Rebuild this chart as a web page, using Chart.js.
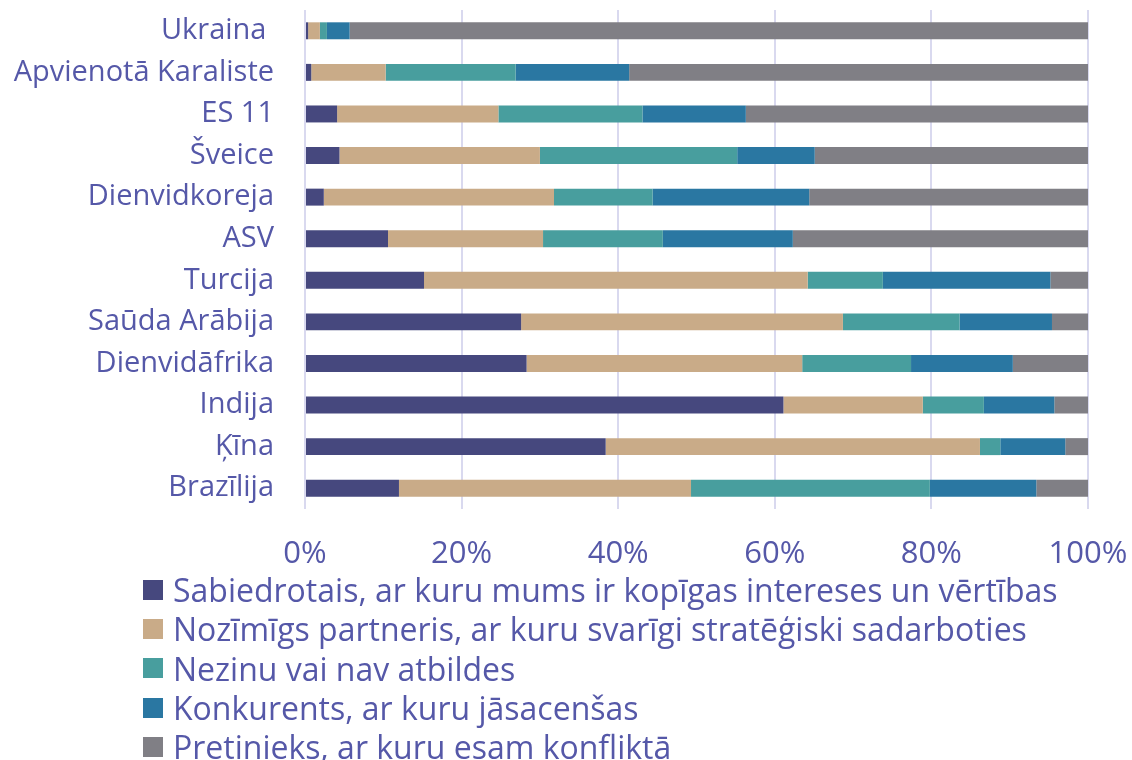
<!DOCTYPE html>
<html>
<head>
<meta charset="utf-8">
<script src="https://cdn.jsdelivr.net/npm/chart.js@4.4.1/dist/chart.umd.min.js"></script>
<style>
  html, body { margin: 0; padding: 0; background: #fff; }
  #wrap { position: relative; width: 1132px; height: 760px; overflow: hidden; }
  #chartBox { position: absolute; left: 0; top: 0; width: 1132px; height: 575px; }
  #legenda {
    position: absolute; left: 143px; top: 570px;
    font-family: "Open Sans", sans-serif; font-size: 32px; color: #5558a8;
  }
  .voce { display: flex; align-items: center; height: 39.3px; white-space: nowrap; }
  .box { width: 20px; height: 20px; margin-right: 10px; flex: none; }
</style>
</head>
<body>
<div id="wrap">
  <div id="chartBox"><canvas id="grafico"></canvas></div>
  <div id="legenda"></div>
</div>
<script>
// ================================
//   DATI
// ================================
const paesi = [
  "Ukraina ", "Apvienotā Karaliste", "ES 11", "Šveice", "Dienvidkoreja", "ASV",
  "Turcija", "Saūda Arābija", "Dienvidāfrika", "Indija", "Ķīna", "Brazīlija"
];

const sabiedrotais = [0.4, 0.8, 4.1, 4.4, 2.4, 10.6, 15.2, 27.6, 28.3, 61.1, 38.4, 12.0];
const partneris    = [1.5, 9.5, 20.6, 25.6, 29.4, 19.8, 49.0, 41.1, 35.2, 17.8, 47.8, 37.3];
const nezinu       = [0.9, 16.6, 18.4, 25.2, 12.6, 15.3, 9.6, 14.9, 13.9, 7.8, 2.6, 30.5];
const konkurents   = [2.9, 14.5, 13.2, 9.9, 20.0, 16.6, 21.4, 11.8, 13.0, 9.0, 8.3, 13.6];
const pretinieks   = [94.3, 58.6, 43.7, 34.9, 35.6, 37.7, 4.8, 4.6, 9.6, 4.3, 2.9, 6.6];

const xTicks = [0, 20, 40, 60, 80, 100];

const serie = [
  { label: "Sabiedrotais, ar kuru mums ir kopīgas intereses un vērtības", data: sabiedrotais, color: "#46487e" },
  { label: "Nozīmīgs partneris, ar kuru svarīgi stratēģiski sadarboties", data: partneris, color: "#c9ab88" },
  { label: "Nezinu vai nav atbildes", data: nezinu, color: "#489e9e" },
  { label: "Konkurents, ar kuru jāsacenšas", data: konkurents, color: "#2a77a2" },
  { label: "Pretinieks, ar kuru esam konfliktā", data: pretinieks, color: "#807f85" }
];

const testo = "#5558a8";
Chart.defaults.font.family = "'Open Sans', sans-serif";
Chart.defaults.color = testo;

// ================================
//   GRAFICO
// ================================
const ctx = document.getElementById("grafico");
new Chart(ctx, {
  type: "bar",
  data: {
    labels: paesi,
    datasets: serie.map(s => ({
      label: s.label,
      data: s.data,
      backgroundColor: s.color,
      borderWidth: 0,
      barPercentage: 0.51,
      categoryPercentage: 0.8
    }))
  },
  options: {
    indexAxis: "y",
    responsive: true,
    maintainAspectRatio: false,
    animation: false,
    layout: { padding: { top: 10, right: 44, left: 0, bottom: 0 } },
    plugins: { legend: { display: false }, tooltip: { enabled: false } },
    scales: {
      x: {
        stacked: true,
        min: 0,
        max: 100,
        afterBuildTicks: (s) => { s.ticks = xTicks.map(v => ({ value: v })); },
        ticks: { padding: 27, font: { size: 31 }, callback: v => v + "%" },
        grid: { color: "#d9d9ef", lineWidth: 2, drawTicks: false },
        border: { display: false },
        afterFit: (s) => { s.height = 66; s.paddingLeft = 0; s.paddingRight = 0; }
      },
      y: {
        stacked: true,
        ticks: { padding: 31, font: { size: 29 } },
        grid: { display: false, drawTicks: false },
        border: { display: false },
        afterFit: (s) => { s.width = 305; s.paddingTop = 0; s.paddingBottom = 0; }
      }
    }
  }
});

// ================================
//   LEGENDA HTML
// ================================
const legenda = document.getElementById("legenda");
serie.forEach(s => {
  const riga = document.createElement("div");
  riga.className = "voce";
  riga.innerHTML = `<span class="box" style="background:${s.color}"></span><span>${s.label}</span>`;
  legenda.appendChild(riga);
});
</script>
</body>
</html>
